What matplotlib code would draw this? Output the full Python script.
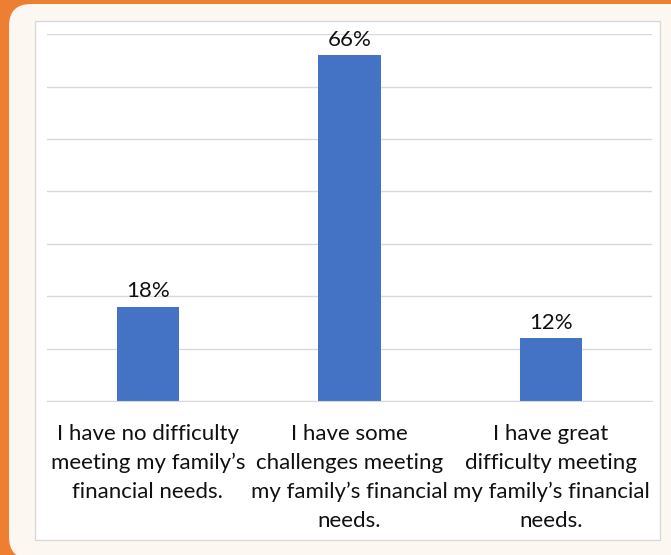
import matplotlib
matplotlib.use("Agg")
import matplotlib.pyplot as plt
from matplotlib.patches import FancyBboxPatch, Rectangle
from matplotlib.transforms import IdentityTransform

plt.rcParams['font.family'] = ['Lato', 'DejaVu Sans']

categories = [
    "I have no difficulty\nmeeting my family\u2019s\nfinancial needs.",
    "I have some\nchallenges meeting\nmy family\u2019s financial\nneeds.",
    "I have great\ndifficulty meeting\nmy family\u2019s financial\nneeds.",
]
shares = [18, 66, 12]
value_labels = ["18%", "66%", "12%"]

ORANGE = "#EE7E32"
PANEL = "#FDF7F2"
BAR = "#4472C4"
GRID = "#D9D9D9"
TEXT = "#111111"

fig = plt.figure(figsize=(6.71, 5.55), dpi=100, facecolor=ORANGE)

# beige rounded panel sitting inside the orange frame
fig.patches.append(FancyBboxPatch((9, -4), 700, 555,
                                  boxstyle="round,pad=0,rounding_size=22",
                                  transform=IdentityTransform(),
                                  facecolor=PANEL, edgecolor="none",
                                  figure=fig, zorder=-3))
# white chart area with thin grey border
fig.patches.append(Rectangle((0.0522, 0.027), 0.931, 0.935,
                             transform=fig.transFigure, facecolor="white",
                             edgecolor=GRID, linewidth=1.0,
                             figure=fig, zorder=-2))

ax = fig.add_axes([0.070, 0.2775, 0.9016, 0.661])
ax.set_facecolor("none")

x = range(len(categories))
ax.bar(x, shares, width=0.31, color=BAR, zorder=2)

for xi, v, lab in zip(x, shares, value_labels):
    ax.annotate(lab, (xi, v), xytext=(0, 4), textcoords="offset points",
                ha="center", va="bottom", fontsize=16, color=TEXT)

ax.set_ylim(0, 70)
ax.set_xlim(-0.5, 2.5)
ax.set_yticks(range(0, 71, 10))
ax.yaxis.grid(True, color=GRID, linewidth=1.0, zorder=0)
ax.set_axisbelow(True)
ax.tick_params(axis="y", left=False, labelleft=False)
ax.tick_params(axis="x", bottom=False, pad=13)
ax.set_xticks(list(x))
ax.set_xticklabels(categories, fontsize=16, color=TEXT, linespacing=1.56)
for s in ["top", "right", "left"]:
    ax.spines[s].set_visible(False)
ax.spines["bottom"].set_color(GRID)

fig.savefig("out.png", dpi=100, facecolor=fig.get_facecolor())
